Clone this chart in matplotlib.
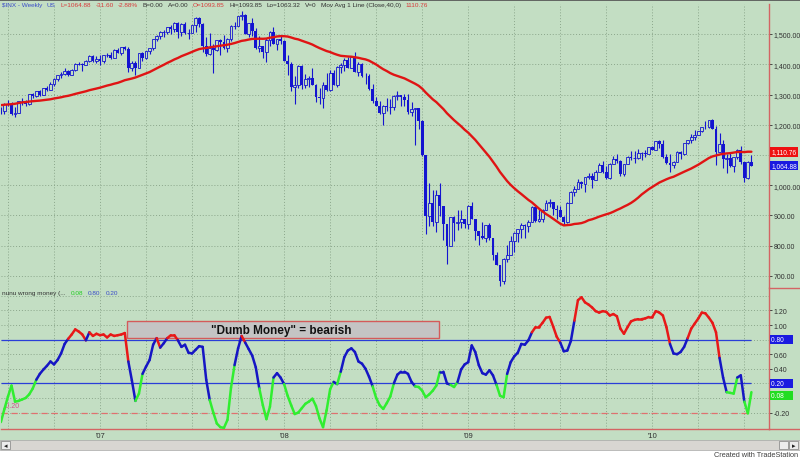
# === IMPORTS ===
import numpy as np
import pandas as pd
import matplotlib
matplotlib.use("Agg")
import matplotlib.pyplot as plt
from matplotlib.collections import LineCollection
from matplotlib.lines import Line2D
from matplotlib.patches import Rectangle

# === DATA ===
# $INX weekly bars, weeks ending 2006-06-23 .. 2010-07-16 (one line per year)
opens = [
    1252, 1245, 1270, 1265, 1236, 1240, 1279, 1279, 1267, 1302, 1295, 1311, 1299, 1320, 1315, 1336, 1350, 1366, 1369, 1377, 1364, 1381, 1401, 1401, 1397, 1410, 1427, 1411,
    1418, 1410, 1431, 1431, 1422, 1448, 1438, 1456, 1451, 1387, 1403, 1387, 1436, 1421, 1444, 1453, 1484, 1494, 1506, 1506, 1523, 1516, 1536, 1508, 1533, 1503, 1503, 1530, 1553, 1534, 1459, 1433, 1454, 1446, 1479, 1474, 1454, 1484, 1526, 1527, 1558, 1562, 1501, 1535, 1510, 1454, 1459, 1441, 1481, 1505, 1468, 1484,
    1478, 1412, 1401, 1325, 1331, 1395, 1331, 1350, 1353, 1331, 1293, 1288, 1330, 1315, 1370, 1333, 1390, 1398, 1414, 1388, 1425, 1376, 1400, 1361, 1360, 1318, 1278, 1263, 1239, 1261, 1258, 1260, 1296, 1298, 1292, 1283, 1242, 1252, 1255, 1213, 1099, 899, 941, 877, 969, 931, 873, 800, 896, 876, 880, 888,
    873, 932, 890, 850, 832, 826, 869, 827, 770, 735, 683, 757, 769, 816, 843, 857, 870, 866, 878, 929, 883, 887, 919, 940, 946, 921, 919, 896, 879, 940, 979, 987, 1010, 1004, 1026, 1029, 1016, 1043, 1068, 1044, 1025, 1071, 1088, 1080, 1036, 1069, 1093, 1091, 1091, 1106, 1106, 1102, 1126,
    1115, 1145, 1136, 1092, 1074, 1066, 1076, 1109, 1104, 1139, 1150, 1160, 1167, 1178, 1194, 1192, 1217, 1187, 1111, 1136, 1088, 1089, 1065, 1092, 1118, 1077, 1023, 1078,
]
highs = [
    1259, 1272, 1281, 1274, 1259, 1280, 1287, 1283, 1303, 1306, 1312, 1315, 1321, 1328, 1340, 1353, 1366, 1373, 1389, 1381, 1385, 1403, 1407, 1403, 1415, 1431, 1429, 1427,
    1430, 1432, 1438, 1441, 1449, 1453, 1457, 1461, 1456, 1410, 1411, 1438, 1441, 1445, 1453, 1485, 1498, 1510, 1513, 1523, 1530, 1540, 1540, 1538, 1540, 1518, 1531, 1555, 1556, 1535, 1489, 1504, 1467, 1481, 1482, 1496, 1486, 1530, 1539, 1560, 1576, 1565, 1535, 1552, 1521, 1493, 1462, 1488, 1510, 1523, 1485, 1498,
    1479, 1432, 1408, 1360, 1396, 1396, 1369, 1360, 1388, 1336, 1321, 1341, 1370, 1380, 1380, 1395, 1404, 1422, 1424, 1426, 1440, 1406, 1404, 1370, 1368, 1335, 1292, 1278, 1265, 1290, 1284, 1297, 1313, 1300, 1303, 1303, 1274, 1256, 1256, 1215, 1100, 1008, 985, 984, 1007, 932, 873, 896, 897, 918, 918, 888,
    934, 943, 890, 850, 877, 870, 875, 827, 780, 735, 758, 804, 833, 845, 857, 875, 871, 884, 930, 930, 924, 920, 951, 956, 946, 935, 931, 898, 943, 982, 996, 1019, 1013, 1027, 1040, 1039, 1049, 1074, 1080, 1065, 1072, 1096, 1102, 1082, 1071, 1097, 1113, 1112, 1120, 1110, 1118, 1127, 1130,
    1146, 1150, 1150, 1103, 1104, 1081, 1112, 1112, 1139, 1151, 1170, 1181, 1180, 1194, 1214, 1217, 1220, 1197, 1174, 1149, 1104, 1106, 1092, 1120, 1131, 1078, 1079, 1099,
]
lows = [
    1237, 1237, 1262, 1232, 1225, 1240, 1266, 1262, 1264, 1290, 1292, 1294, 1298, 1311, 1315, 1327, 1344, 1356, 1364, 1360, 1364, 1378, 1396, 1377, 1397, 1407, 1408, 1405,
    1398, 1403, 1424, 1416, 1420, 1437, 1431, 1447, 1374, 1377, 1364, 1386, 1411, 1416, 1435, 1447, 1476, 1482, 1491, 1499, 1500, 1508, 1487, 1492, 1500, 1484, 1503, 1505, 1522, 1440, 1427, 1429, 1370, 1445, 1432, 1450, 1439, 1476, 1516, 1526, 1546, 1500, 1490, 1492, 1450, 1440, 1420, 1406, 1460, 1466, 1446, 1467,
    1411, 1365, 1313, 1270, 1322, 1317, 1321, 1325, 1330, 1276, 1270, 1256, 1312, 1312, 1332, 1324, 1370, 1379, 1386, 1387, 1373, 1362, 1359, 1336, 1314, 1272, 1261, 1236, 1200, 1246, 1234, 1248, 1282, 1262, 1262, 1236, 1230, 1134, 1187, 1097, 840, 866, 865, 845, 899, 819, 741, 800, 815, 851, 858, 858,
    857, 888, 818, 804, 821, 812, 818, 754, 735, 667, 673, 747, 768, 780, 814, 826, 826, 844, 878, 879, 878, 880, 919, 928, 903, 888, 896, 869, 875, 940, 965, 987, 990, 978, 1022, 992, 1016, 1043, 1042, 1020, 1020, 1071, 1073, 1030, 1029, 1069, 1085, 1073, 1087, 1085, 1092, 1102, 1115,
    1115, 1124, 1090, 1071, 1045, 1056, 1076, 1087, 1101, 1135, 1141, 1150, 1165, 1175, 1186, 1189, 1185, 1066, 1111, 1056, 1040, 1060, 1043, 1086, 1071, 1011, 1022, 1063,
]
closes = [
    1245, 1270, 1265, 1236, 1240, 1279, 1279, 1267, 1302, 1295, 1311, 1299, 1320, 1315, 1336, 1350, 1366, 1369, 1377, 1364, 1381, 1401, 1401, 1397, 1410, 1427, 1411, 1418,
    1410, 1431, 1431, 1422, 1448, 1438, 1456, 1451, 1387, 1403, 1387, 1436, 1421, 1444, 1453, 1484, 1494, 1506, 1506, 1523, 1516, 1536, 1508, 1533, 1503, 1503, 1530, 1553, 1534, 1459, 1433, 1454, 1446, 1479, 1474, 1454, 1484, 1526, 1527, 1558, 1562, 1501, 1535, 1510, 1454, 1459, 1441, 1481, 1505, 1468, 1484, 1478,
    1412, 1401, 1325, 1331, 1395, 1331, 1350, 1353, 1331, 1293, 1288, 1330, 1315, 1370, 1333, 1390, 1398, 1414, 1388, 1425, 1376, 1400, 1361, 1360, 1318, 1278, 1263, 1239, 1261, 1258, 1260, 1296, 1298, 1292, 1283, 1242, 1252, 1255, 1213, 1099, 899, 941, 877, 969, 931, 873, 800, 896, 876, 880, 888, 873,
    932, 890, 850, 832, 826, 869, 827, 770, 735, 683, 757, 769, 816, 843, 857, 870, 866, 878, 929, 883, 887, 919, 940, 946, 921, 919, 896, 879, 940, 979, 987, 1010, 1004, 1026, 1029, 1016, 1043, 1068, 1044, 1025, 1071, 1088, 1080, 1036, 1069, 1093, 1091, 1091, 1106, 1106, 1102, 1126, 1115,
    1145, 1136, 1092, 1074, 1066, 1076, 1109, 1104, 1139, 1150, 1160, 1167, 1178, 1194, 1192, 1217, 1187, 1111, 1136, 1088, 1089, 1065, 1092, 1118, 1077, 1023, 1078, 1065,
]
# the 39 weekly closes before the first bar, only needed to seed the 40-week average
closes_before = [
    1215, 1229, 1196, 1187, 1180, 1198, 1220, 1235, 1248, 1268, 1265, 1259, 1267, 1269, 1248,
    1285, 1288, 1261, 1284, 1264, 1267, 1287, 1289, 1287, 1281, 1307, 1303, 1295, 1296, 1289,
    1311, 1311, 1326, 1291, 1267, 1280, 1288, 1252, 1252,
]
first_week = "2006-06-23"
ma_length = 40

# "nunu wrong money" indicator, one value per weekly bar
wrong_money = [
    -0.33, -0.15, 0.02, 0.17, -0.05, -0.04, -0.02, 0.00, 0.05, 0.13,
    0.25, 0.33, 0.39, 0.44, 0.50, 0.46, 0.52, 0.61, 0.74, 0.81,
    0.87, 0.94, 0.91, 0.87, 0.79, 0.90, 0.85, 0.88, 0.86, 0.87,
    0.83, 0.87, 0.85, 0.86, 0.87, 0.89, 0.50, 0.24, -0.04, 0.06,
    0.33, 0.43, 0.52, 0.73, 0.82, 0.69, 0.75, 0.82, 0.86, 0.86,
    0.79, 0.70, 0.73, 0.62, 0.61, 0.66, 0.71, 0.70, 0.25, -0.03,
    -0.20, -0.35, -0.40, -0.41, -0.30, 0.14, 0.45, 0.68, 0.85, 0.76,
    0.67, 0.58, 0.42, 0.13, -0.10, -0.29, -0.12, 0.28, 0.34, 0.28,
    0.19, 0.03, -0.10, -0.22, -0.20, -0.14, -0.08, -0.05, -0.01, -0.11,
    -0.28, -0.40, -0.17, 0.12, 0.22, 0.19, 0.36, 0.56, 0.65, 0.68,
    0.63, 0.50, 0.47, 0.40, 0.29, 0.16, 0.00, -0.10, -0.15, -0.07,
    0.02, 0.20, 0.32, 0.36, 0.36, 0.33, 0.22, 0.16, 0.15, 0.10,
    0.01, 0.05, 0.10, 0.17, 0.36, 0.36, 0.20, 0.18, 0.15, 0.22,
    0.39, 0.46, 0.49, 0.72, 0.63, 0.45, 0.34, 0.32, 0.38, 0.31,
    0.18, 0.03, 0.01, 0.33, 0.49, 0.57, 0.62, 0.74, 0.73, 0.79,
    0.90, 0.97, 0.97, 1.03, 1.10, 1.11, 0.98, 0.84, 0.76, 0.64,
    0.65, 0.78, 1.06, 1.34, 1.38, 1.31, 1.28, 1.24, 1.19, 1.17,
    1.19, 1.18, 1.13, 1.15, 1.12, 0.95, 0.88, 0.97, 1.05, 1.07,
    1.08, 1.08, 1.09, 1.11, 1.11, 1.19, 1.17, 1.13, 0.97, 0.74,
    0.61, 0.60, 0.63, 0.70, 0.82, 0.95, 1.02, 1.09, 1.17, 1.16,
    1.10, 1.03, 0.90, 0.55, 0.28, 0.08, 0.07, 0.06, 0.28, 0.31,
    -0.05, -0.21, 0.08,
]
upper_level = 0.80
lower_level = 0.20
floor_level = -0.20

price_ticks = [700, 800, 900, 1000, 1200, 1300, 1400, 1500]
price_grid = [700, 800, 900, 1000, 1100, 1200, 1300, 1400, 1500]
ind_grid = [-0.2, 0.0, 0.2, 0.4, 0.6, 0.8, 1.0, 1.2, 1.4]
ind_ticks = [-0.2, 0.4, 0.6, 1.0, 1.2]

# last-bar values shown in the header / axis flags
last_close = 1064.88
last_ma = 1110.76
last_ind = 0.08
header = [
    ("$INX - Weekly", "blue"), ("US", "blue"), ("L=1064.88", "red"), ("-31.60", "red"),
    ("-2.88%", "red"), ("B=0.00", "dark"), ("A=0.00", "dark"), ("O=1093.85", "red"),
    ("Hi=1093.85", "dark"), ("Lo=1063.32", "dark"), ("V=0", "dark"),
    ("Mov Avg 1 Line (Close,40,0)", "dark"), ("1110.76", "red"),
]
ind_header = [
    ("nunu wrong money (...", "dark"), (f"{last_ind:.2f}", "green"),
    (f"{upper_level:.2f}", "blue"), (f"{lower_level:.2f}", "blue"),
]

# === STYLE ===
BG = "#c3dec3"
GRID = "#8ba68b"
BAR_BLUE = "#1414d0"
MA_RED = "#e01414"
IND_GREEN = "#30ee30"
IND_BLUE = "#1616c4"
IND_RED = "#e81818"
LEVEL_BLUE = "#2a3ed8"
AXIS_RED = "#d46464"
TXT = "#303030"
HEAD_COLORS = {"blue": "#3a4cc8", "red": "#d83a3a", "dark": "#303030", "green": "#22cc22"}

plt.rcParams["font.family"] = ["Liberation Sans", "DejaVu Sans"]

W, H = 800, 460


def fx(px):
    return px / W


def fy(py):
    return 1 - py / H


# === DERIVED ===
o = np.array(opens, float)
h = np.array(highs, float)
l = np.array(lows, float)
c = np.array(closes, float)
wm = np.array(wrong_money, float)
x = np.arange(len(c))

ma = pd.Series(closes_before + closes).rolling(ma_length).mean().to_numpy()[len(closes_before):]

weeks = pd.date_range(first_week, periods=len(c), freq="W-FRI")
year_idx = [i for i in range(1, len(weeks)) if weeks[i].year != weeks[i - 1].year]
quarter_idx = [i for i in range(1, len(weeks))
               if weeks[i].month != weeks[i - 1].month and weeks[i].month in (1, 4, 7, 10)]

# === FIGURE ===
fig = plt.figure(figsize=(W / 100, H / 100), dpi=100, facecolor=BG)
renderer = fig.canvas.get_renderer()
ax1 = fig.add_axes([fx(1), fy(288), 768 / W, 283 / H])
ax2 = fig.add_axes([fx(1), fy(430), 768 / W, 141 / H])

for ax in (ax1, ax2):
    ax.set_facecolor(BG)
    ax.set_xlim(0.03, 216.97)
    for q in quarter_idx:
        ax.axvline(q, color=GRID, ls=(0, (1, 2)), lw=0.7, zorder=0)
    for s in ("top", "left", "bottom"):
        ax.spines[s].set_visible(False)
    ax.spines["right"].set_color(AXIS_RED)
    ax.spines["right"].set_linewidth(1.0)

# --- price panel ---
ax1.set_ylim(663.6, 1599.2)
for p in price_grid:
    ax1.axhline(p, color=GRID, ls=(0, (1, 2)), lw=0.7, zorder=0)

up = c >= o
ax1.vlines(x, l, h, color=BAR_BLUE, lw=0.8, zorder=2)
ax1.bar(x[up], (c - o)[up], bottom=o[up], width=0.8, facecolor=BG,
        edgecolor=BAR_BLUE, lw=0.6, zorder=3)
ax1.bar(x[~up], (o - c)[~up], bottom=c[~up], width=0.8, color=BAR_BLUE, lw=0, zorder=3)
ax1.plot(x, ma, color=MA_RED, lw=1.7, zorder=4, solid_capstyle="round")

ax1.set_xticks([])
ax1.yaxis.tick_right()
ax1.set_yticks(price_ticks)
ax1.set_yticklabels([f"{p:,.2f}" for p in price_ticks])
ax1.tick_params(axis="y", labelsize=5, colors=TXT, length=2, pad=1.5, width=0.6)

ytr1 = ax1.get_yaxis_transform()
ax1.text(1.003, last_ma, f"{last_ma:,.2f}", transform=ytr1, fontsize=4.8, color="white",
         va="center", ha="left", bbox=dict(boxstyle="square,pad=0.2", fc="#ee1111", ec="none"))
ax1.text(1.003, last_close, f"{last_close:,.2f}", transform=ytr1, fontsize=4.8, color="white",
         va="center", ha="left", bbox=dict(boxstyle="square,pad=0.2", fc="#1a1ae0", ec="none"))

# --- indicator panel ---
ax2.set_ylim(-0.425, 1.507)
for lv in ind_grid:
    ax2.axhline(lv, color=GRID, ls=(0, (1, 2)), lw=0.7, zorder=0)
ax2.hlines([upper_level, lower_level], x[0], x[-1], color=LEVEL_BLUE, lw=0.9, zorder=1)
ax2.hlines(floor_level, x[0], x[-1], color="#e07070", lw=0.9, ls=(0, (5, 3)), zorder=1)

pts = np.column_stack([x, wm])
segs = np.stack([pts[:-1], pts[1:]], axis=1)
seg_colors = [IND_RED if v > upper_level else (IND_BLUE if v >= lower_level else IND_GREEN)
              for v in wm[:-1]]
ax2.add_collection(LineCollection(segs, colors=seg_colors, linewidths=1.8,
                                  capstyle="round", joinstyle="round", zorder=4))

# "Dumb Money" note box
ax2.add_patch(Rectangle((35.6, 0.82), 88.2, 0.235, facecolor="#c4c4c4",
                        edgecolor="#d45a5a", lw=1.0, zorder=3))
ax2.text(79.2, 0.925, '"Dumb Money" = bearish', fontsize=8.5, fontweight="bold",
         color="#111111", ha="center", va="center", zorder=5)

ax2.spines["bottom"].set_visible(True)
ax2.spines["bottom"].set_color(AXIS_RED)
ax2.spines["bottom"].set_linewidth(1.0)
ax2.yaxis.tick_right()
ax2.set_yticks(ind_ticks)
ax2.set_yticklabels([f"{v:.2f}" for v in ind_ticks])
ax2.tick_params(axis="y", labelsize=5, colors=TXT, length=2, pad=1.5, width=0.6)
ax2.set_xticks(year_idx)
ax2.set_xticklabels([f"'{weeks[i]:%y}" for i in year_idx])
ax2.tick_params(axis="x", labelsize=5.5, colors=TXT, length=0, pad=2)

ytr2 = ax2.get_yaxis_transform()
for lv, fc, va in ((upper_level, "#1a1ae0", "center"), (lower_level, "#1a1ae0", "center"),
                   (last_ind, "#22dd22", "top")):
    ax2.text(1.003, lv, f"{lv:.2f}" + "    ", transform=ytr2, fontsize=4.8, color="white",
             va=va, ha="left", bbox=dict(boxstyle="square,pad=0.2", fc=fc, ec="none"))
ax2.text(0.004, floor_level + 0.07, "-0.20", transform=ytr2, fontsize=5, color="#d0508a")


# === TEXT / FRAME ===
def chain_text(items, x0, y, size, gap):
    px = x0
    for s, col in items:
        t = fig.text(fx(px), fy(y), s, fontsize=size, color=HEAD_COLORS[col],
                     va="center", ha="left")
        px += t.get_window_extent(renderer).width + gap


chain_text(header, 2, 5.5, 4.6, 4.5)
chain_text(ind_header, 2, 294, 4.6, 5)

fig.add_artist(Line2D([0, 1], [fy(0.6), fy(0.6)], color="#505050", lw=1.2))
fig.add_artist(Line2D([fx(769), 1], [fy(288.6), fy(288.6)], color=AXIS_RED, lw=1.0))
fig.add_artist(Line2D([fx(769), 1], [fy(430), fy(430)], color=AXIS_RED, lw=1.0))

# scroll bar + footer
fig.add_artist(Rectangle((0, 0), 1, fy(451), facecolor="white", edgecolor="none"))
fig.add_artist(Rectangle((0, fy(451)), 1, 10 / H, facecolor="#d8d6d2", edgecolor="#a8a8a8", lw=0.5))
for bx in (1, 779, 789):
    fig.add_artist(Rectangle((fx(bx), fy(450)), 9 / W, 8 / H, facecolor="#ececec",
                             edgecolor="#808080", lw=0.5))
fig.text(fx(5.5), fy(446), "\u25c2", fontsize=5, color="#202020", ha="center", va="center",
         family=["DejaVu Sans"])
fig.text(fx(793.5), fy(446), "\u25b8", fontsize=5, color="#202020", ha="center", va="center",
         family=["DejaVu Sans"])
fig.text(fx(798), fy(455.5), "Created with TradeStation", fontsize=5.3, color="#404040",
         ha="right", va="center")

fig.savefig("out.png", dpi=100, facecolor=BG)
